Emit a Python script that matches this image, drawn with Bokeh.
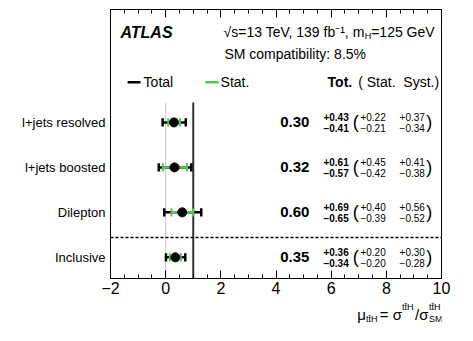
from bokeh.plotting import figure
from bokeh.models import (ColumnDataSource, Label, LinearAxis, FixedTicker,
                          SingleIntervalTicker, Range1d)
from bokeh.layouts import column
from bokeh.core.properties import value
from bokeh.embed import file_html
from bokeh.resources import INLINE

# ---- data ----
categories = ["l+jets resolved", "l+jets boosted", "Dilepton", "Inclusive"]
mu = [0.30, 0.32, 0.60, 0.35]
tot_up = [0.43, 0.61, 0.69, 0.36]
tot_dn = [0.41, 0.57, 0.65, 0.34]
stat_up = [0.22, 0.45, 0.40, 0.20]
stat_dn = [0.21, 0.42, 0.39, 0.20]
syst_up = [0.37, 0.41, 0.56, 0.30]
syst_dn = [0.34, 0.38, 0.52, 0.28]
x_ticks = [-2, 0, 2, 4, 6, 8, 10]
sm_value = 1.0
sm_compat = "8.5%"

n = len(categories)
ypos = [n - i for i in range(n)]

FONT = value("Liberation Sans")
GREEN = "#55c655"
NB = "\u00a0"

src = ColumnDataSource(dict(
    y=ypos, mu=mu,
    tlo=[m - d for m, d in zip(mu, tot_dn)],
    thi=[m + u for m, u in zip(mu, tot_up)],
    slo=[m - d for m, d in zip(mu, stat_dn)],
    shi=[m + u for m, u in zip(mu, stat_up)],
    ylo=[y - 0.09 for y in ypos],
    yhi=[y + 0.09 for y in ypos],
    yup=[y + 0.125 for y in ypos],
    ydn=[y - 0.115 for y in ypos],
    val=[f"{v:.2f}" for v in mu],
    tu=[f"+{v:.2f}" for v in tot_up],
    td=[f"\u2212{v:.2f}" for v in tot_dn],
    su=[f"+{v:.2f}" for v in stat_up],
    sd=[f"\u2212{v:.2f}" for v in stat_dn],
    yu=[f"+{v:.2f}" for v in syst_up],
    yd=[f"\u2212{v:.2f}" for v in syst_dn],
    lp=["(" for _ in ypos], rp=[")" for _ in ypos],
))

Y0, Y1 = 0.53, 6.51
p = figure(frame_width=331, frame_height=269, output_backend="svg",
           toolbar_location=None, x_range=Range1d(-2, 10), y_range=Range1d(Y0, Y1),
           min_border_left=110, min_border_right=19, min_border_top=9,
           min_border_bottom=22)
p.background_fill_color = "white"
p.border_fill_color = "white"
p.outline_line_color = "black"
p.outline_line_width = 1
p.xgrid.visible = False
p.ygrid.visible = False

# x axis
xa = p.xaxis[0]
xa.ticker = SingleIntervalTicker(interval=2, num_minor_ticks=4)
xa.major_tick_in = 8
xa.major_tick_out = 0
xa.minor_tick_in = 4
xa.minor_tick_out = 0
xa.major_label_text_font = "Liberation Sans"
xa.major_label_text_font_size = "16px"
xa.major_label_text_color = "black"
xa.major_label_standoff = 3
xa.major_label_overrides = {t: (f"\u2212{abs(t)}" if t < 0 else str(t)) for t in x_ticks}
xa.axis_line_color = "black"

top = LinearAxis(ticker=SingleIntervalTicker(interval=2, num_minor_ticks=4),
                 major_tick_in=8, major_tick_out=0, minor_tick_in=4, minor_tick_out=0,
                 major_label_standoff=0, major_label_text_font_size="1px",
                 major_label_overrides={t: "" for t in x_ticks},
                 axis_line_color="black")
p.add_layout(top, "above")

# y axis: category labels
ya = p.yaxis[0]
ya.ticker = FixedTicker(ticks=ypos)
ya.major_label_overrides = {y: c for y, c in zip(ypos, categories)}
ya.major_tick_in = 0
ya.major_tick_out = 0
ya.minor_tick_in = 0
ya.minor_tick_out = 0
ya.axis_line_color = None
ya.major_label_text_font = "Liberation Sans"
ya.major_label_text_font_size = "13px"
ya.major_label_text_color = "black"
ya.major_label_standoff = 5

# reference lines
p.segment(x0=[0], y0=[Y0], x1=[0], y1=[4.44], line_color="#8a8a8a",
          line_width=1, line_dash="1 1")
p.segment(x0=[sm_value], y0=[Y0], x1=[sm_value], y1=[4.44], line_color="#333333",
          line_width=2)
p.segment(x0=[-2], y0=[1.44], x1=[10], y1=[1.44], line_color="black",
          line_width=1.5, line_dash="3 2")

# error bars
p.segment(x0="tlo", y0="y", x1="thi", y1="y", source=src, line_color="black", line_width=2.5)
p.segment(x0="tlo", y0="ylo", x1="tlo", y1="yhi", source=src, line_color="black", line_width=2.5)
p.segment(x0="thi", y0="ylo", x1="thi", y1="yhi", source=src, line_color="black", line_width=2.5)
p.segment(x0="slo", y0="y", x1="shi", y1="y", source=src, line_color=GREEN, line_width=2.5)
p.segment(x0="slo", y0="ylo", x1="slo", y1="yhi", source=src, line_color=GREEN, line_width=2)
p.segment(x0="shi", y0="ylo", x1="shi", y1="yhi", source=src, line_color=GREEN, line_width=2)
p.scatter(x="mu", y="y", source=src, size=9, fill_color="black", line_color="black")

# numbers
def col(x, ycol, tcol, size, style="normal", align="left"):
    p.text(x=x, y=ycol, text=tcol, source=src, text_font=FONT, text_font_style=style,
           text_font_size=size, text_align=align, text_baseline="middle",
           text_color="black")

col(5.21, "y", "val", "15px", "bold", "right")
col(5.72, "yup", "tu", "10px", "bold")
col(5.72, "ydn", "td", "10px", "bold")
col(6.78, "y", "lp", "18px")
col(7.06, "yup", "su", "10px")
col(7.06, "ydn", "sd", "10px")
col(8.48, "yup", "yu", "10px")
col(8.48, "ydn", "yd", "10px")
col(9.45, "y", "rp", "18px")


def lab(fig, x, y, t, size="14px", style="normal", align="left"):
    fig.add_layout(Label(x=x, y=y, text=t, text_font="Liberation Sans",
                         text_font_size=size, text_font_style=style, text_align=align,
                         text_baseline="middle", text_color="black"))


# header
lab(p, -1.64, 6.0, "ATLAS", size="16px", style="bold italic")
lab(p, 9.75, 6.0, "=125 GeV", align="right")
lab(p, 7.45, 5.93, "H", size="9px", align="right")
lab(p, 7.21, 6.0, "\u221as=13 TeV, 139 fb\u207b\u00b9, m", align="right")
lab(p, 2.13, 5.53, f"SM compatibility: {sm_compat}")

# legend
p.segment(x0=[-1.38], y0=[4.89], x1=[-0.91], y1=[4.89], line_color="black", line_width=2.5)
lab(p, -0.80, 4.89, "Total")
p.segment(x0=[1.44], y0=[4.89], x1=[1.92], y1=[4.89], line_color=GREEN, line_width=2.5)
lab(p, 1.99, 4.89, "Stat.")
lab(p, 5.87, 4.89, "Tot.", style="bold")
lab(p, 6.98, 4.89, f"({NB}Stat.{NB}{NB}Syst.)")

# x axis title in a strip below the main frame
p2 = figure(frame_width=331, frame_height=25, output_backend="svg",
            toolbar_location=None, x_range=p.x_range, y_range=Range1d(0, 25),
            min_border_left=110, min_border_right=19, min_border_top=0,
            min_border_bottom=0)
p2.axis.visible = False
p2.grid.visible = False
p2.outline_line_color = None
p2.background_fill_color = "white"
p2.border_fill_color = "white"

lab(p2, 6.95, 11, "\u03bc", size="15px")
lab(p2, 7.26, 6.5, "tt\u0304H", size="9px")
lab(p2, 7.76, 11, "=\u00a0\u03c3", size="15px")
lab(p2, 8.57, 18.5, "tt\u0304H", size="9px")
lab(p2, 9.04, 11, "/\u03c3", size="15px")
lab(p2, 9.55, 18.5, "tt\u0304H", size="9px")
lab(p2, 9.55, 6.5, "SM", size="9px")

layout = column(p, p2, spacing=0)
open("out.html", "w").write(file_html(layout, INLINE))
